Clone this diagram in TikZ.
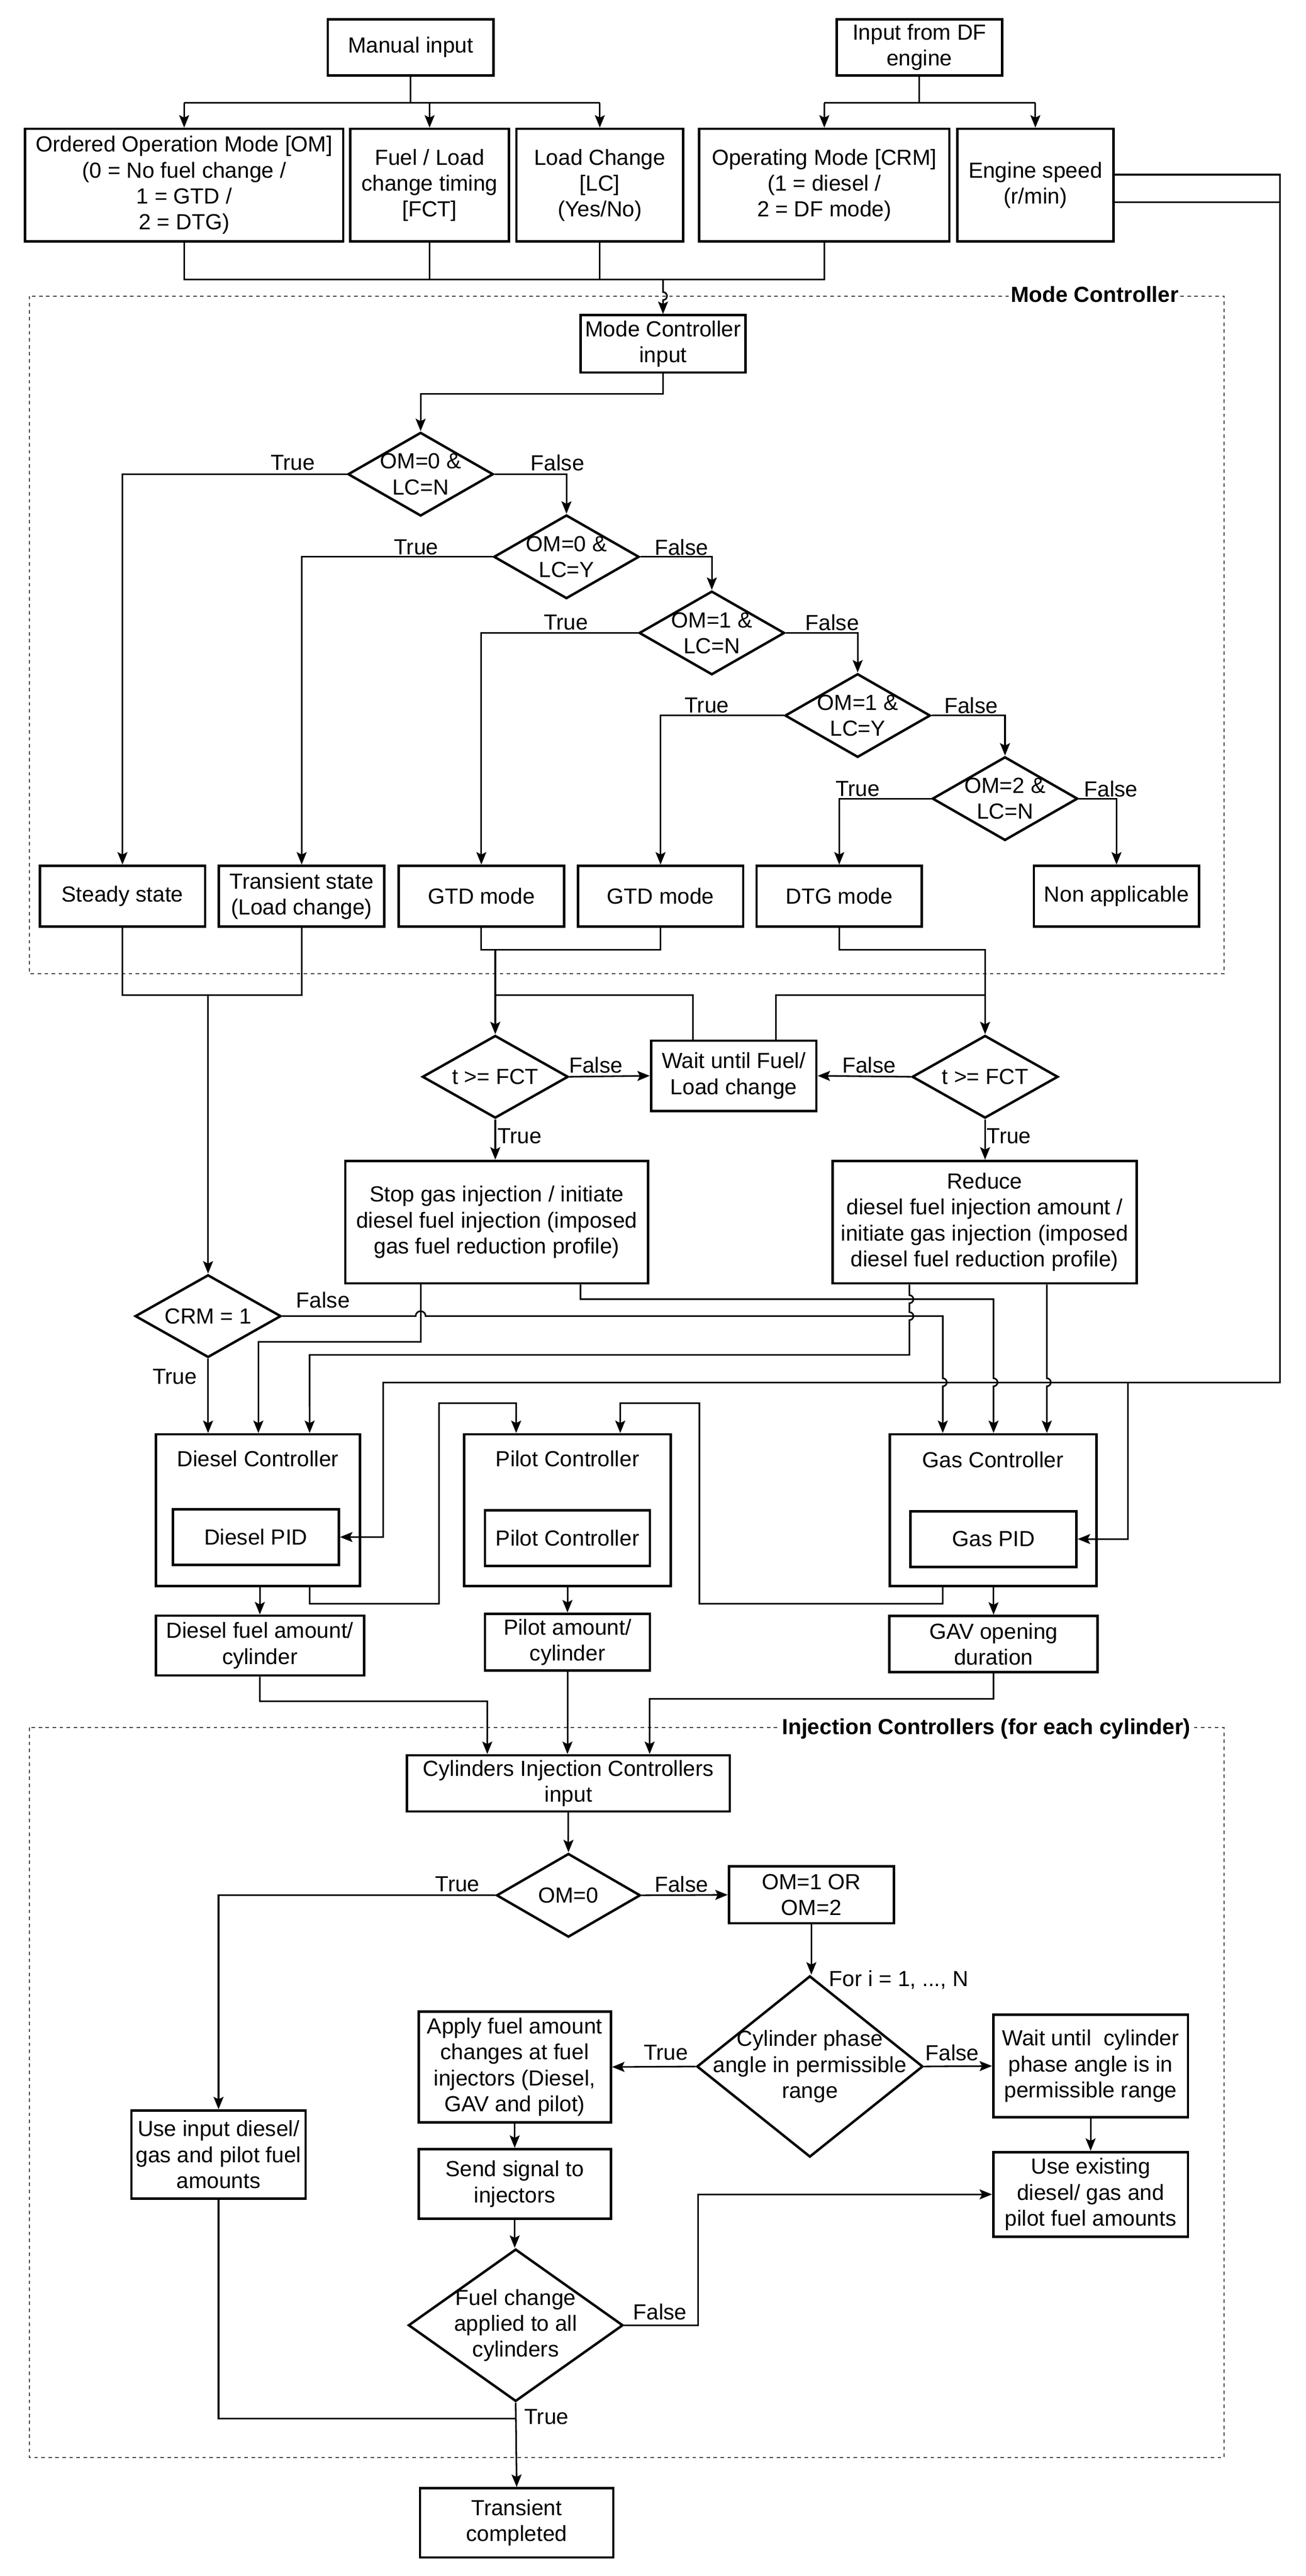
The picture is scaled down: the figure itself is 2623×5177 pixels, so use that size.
\documentclass[tikz,border=0pt]{standalone}
\usepackage{fontspec}
\setmainfont{Liberation Sans}
\usetikzlibrary{shapes.geometric, arrows.meta, calc}

\newcommand{\boxfont}{\fontsize{12.5}{14.8}\selectfont}

\tikzset{
  box/.style={draw, line width=1.4pt, align=center, inner sep=0pt, font=\boxfont},
  cond/.style={diamond, draw, line width=1.4pt, inner sep=0pt},
  txt/.style={align=center, inner sep=0pt, font=\boxfont},
  lbl/.style={inner sep=0pt, font=\boxfont},
  conn/.style={line width=0.9pt},
  arr/.style={conn, -{Stealth[length=0.25cm, width=0.2cm, inset=0.05cm]}},
  zone/.style={line width=0.6pt, black!75, dash pattern=on 2pt off 2pt},
  ztitle/.style={fill=white, inner sep=1pt, font=\bfseries\boxfont}
}

\begin{document}
\begin{tikzpicture}[x=0.01cm, y=-0.01cm]
\useasboundingbox (0,0) rectangle (2623,5177);

% dashed zones
\draw[zone] (59,595) rectangle (2459,1957);
\node[ztitle, anchor=east] (mctitle) at (2372,592) {Mode Controller};
\draw[zone] (59,3472) rectangle (2459,4939);
\node[ztitle, anchor=east] (ictitle) at (2396,3474) {Injection Controllers (for each cylinder)};

% inputs
\node[box, minimum width=3.33cm, minimum height=1.13cm] (man) at (825,95) {Manual input};
\node[box, minimum width=3.32cm, minimum height=1.13cm] (dfe) at (1847,95) {Input from DF\\engine};
\node[box, minimum width=6.39cm, minimum height=2.26cm] (om) at (370,372) {Ordered Operation Mode [OM]\\(0 = No fuel change /\\1 = GTD /\\2 = DTG)};
\node[box, minimum width=3.18cm, minimum height=2.26cm] (fct) at (863,372) {Fuel / Load\\change timing\\{[FCT]}};
\node[box, minimum width=3.35cm, minimum height=2.26cm] (lc) at (1205,372) {Load Change\\{[LC]}\\(Yes/No)};
\node[box, minimum width=5.02cm, minimum height=2.26cm] (crm) at (1656,372) {Operating Mode [CRM]\\(1 = diesel /\\2 = DF mode)};
\node[box, minimum width=3.13cm, minimum height=2.26cm] (spd) at (2080,372) {Engine speed\\(r/min)};

% mode controller
\node[box, minimum width=3.31cm, minimum height=1.15cm] (mci) at (1332,691) {Mode Controller\\input};
\node[cond, minimum width=2.92cm, minimum height=1.68cm] (d1) at (845,953) {};
\node[txt] (d1t) at (d1) {OM=0 \&\\LC=N};
\node[cond, minimum width=2.92cm, minimum height=1.68cm] (d2) at (1138,1119) {};
\node[txt] (d2t) at (d2) {OM=0 \&\\LC=Y};
\node[cond, minimum width=2.92cm, minimum height=1.68cm] (d3) at (1430,1272) {};
\node[txt] (d3t) at (d3) {OM=1 \&\\LC=N};
\node[cond, minimum width=2.92cm, minimum height=1.68cm] (d4) at (1723,1438) {};
\node[txt] (d4t) at (d4) {OM=1 \&\\LC=Y};
\node[cond, minimum width=2.92cm, minimum height=1.68cm] (d5) at (2019,1605) {};
\node[txt] (d5t) at (d5) {OM=2 \&\\LC=N};

\node[box, minimum width=3.32cm, minimum height=1.22cm] (ss) at (246,1801) {Steady state};
\node[box, minimum width=3.32cm, minimum height=1.22cm] (ts) at (606,1801) {Transient state\\(Load change)};
\node[box, minimum width=3.32cm, minimum height=1.22cm] (gtd1) at (967,1801) {GTD mode};
\node[box, minimum width=3.32cm, minimum height=1.22cm] (gtd2) at (1327,1801) {GTD mode};
\node[box, minimum width=3.32cm, minimum height=1.22cm] (dtg) at (1686,1801) {DTG mode};
\node[box, minimum width=3.32cm, minimum height=1.22cm] (na) at (2243,1801) {Non applicable};

% fuel change timing
\node[cond, minimum width=2.93cm, minimum height=1.66cm] (fct1) at (995,2164) {};
\node[txt] (fct1t) at (fct1) {t >= FCT};
\node[box, minimum width=3.32cm, minimum height=1.41cm] (wait) at (1474,2162) {Wait until Fuel/\\Load change};
\node[cond, minimum width=2.93cm, minimum height=1.66cm] (fct2) at (1979,2164) {};
\node[txt] (fct2t) at (fct2) {t >= FCT};
\node[box, minimum width=6.08cm, minimum height=2.46cm] (stop) at (998,2456) {Stop gas injection / initiate\\diesel fuel injection (imposed\\gas fuel reduction profile)};
\node[box, minimum width=6.11cm, minimum height=2.46cm] (red) at (1978,2456) {Reduce\\diesel fuel injection amount /\\initiate gas injection (imposed\\diesel fuel reduction profile)};
\node[cond, minimum width=2.93cm, minimum height=1.66cm] (crmd) at (418,2645) {};
\node[txt] (crmdt) at (crmd) {CRM = 1};

% controllers
\node[box, minimum width=4.10cm, minimum height=3.05cm] (dc) at (518,3035) {};
\node[txt] (dct) at (518,2931) {Diesel Controller};
\node[box, minimum width=3.33cm, minimum height=1.12cm] (dpid) at (514,3089) {Diesel PID};
\node[box, minimum width=4.15cm, minimum height=3.05cm] (pc) at (1140,3035) {};
\node[txt] (pct) at (1140,2931) {Pilot Controller};
\node[box, minimum width=3.31cm, minimum height=1.12cm] (ppid) at (1140,3091) {Pilot Controller};
\node[box, minimum width=4.15cm, minimum height=3.05cm] (gc) at (1995,3035) {};
\node[txt] (gct) at (1995,2934) {Gas Controller};
\node[box, minimum width=3.33cm, minimum height=1.12cm] (gpid) at (1996,3093) {Gas PID};

\node[box, minimum width=4.18cm, minimum height=1.20cm] (dfa) at (522,3307) {Diesel fuel amount/\\cylinder};
\node[box, minimum width=3.31cm, minimum height=1.14cm] (pam) at (1140,3300) {Pilot amount/\\cylinder};
\node[box, minimum width=4.18cm, minimum height=1.13cm] (gav) at (1996,3304) {GAV opening\\duration};

% injection controllers
\node[box, minimum width=6.48cm, minimum height=1.13cm] (cic) at (1142,3584) {Cylinders Injection Controllers\\input};
\node[cond, minimum width=2.89cm, minimum height=1.68cm] (om0) at (1142,3809) {};
\node[txt] (om0t) at (om0) {OM=0};
\node[box, minimum width=3.31cm, minimum height=1.14cm] (om12) at (1630,3808) {OM=1 OR\\OM=2};
\node[cond, minimum width=4.54cm, minimum height=3.64cm] (cpd) at (1627,4153) {};
\node[txt] (cpdt) at (cpd) {Cylinder phase\\angle in permissible\\range};
\node[box, minimum width=3.86cm, minimum height=2.23cm] (app) at (1034,4154) {Apply fuel amount\\changes at fuel\\injectors (Diesel,\\GAV and pilot)};
\node[box, minimum width=3.91cm, minimum height=2.06cm] (wcy) at (2191,4152) {Wait until~ cylinder\\phase angle is in\\permissible range};
\node[box, minimum width=3.91cm, minimum height=1.70cm] (uex) at (2191,4410) {Use existing\\diesel/ gas and\\pilot fuel amounts};
\node[box, minimum width=3.86cm, minimum height=1.40cm] (snd) at (1034,4389) {Send signal to\\injectors};
\node[cond, minimum width=4.31cm, minimum height=3.06cm] (fcd) at (1036,4673) {};
\node[txt] (fcdt) at (fcd) {Fuel change\\applied to all\\cylinders};
\node[box, minimum width=3.50cm, minimum height=1.77cm] (uin) at (439,4330) {Use input diesel/\\gas and pilot fuel\\amounts};
\node[box, minimum width=3.88cm, minimum height=1.39cm] (tc) at (1038,5070) {Transient\\completed};

% bus lines
\coordinate (mbus) at (0,207);
\coordinate (ibus) at (0,562);
\coordinate (mcbus) at (0,792);
\coordinate (gbus) at (0,1909);
\coordinate (sbus) at (0,2000);

% inputs to parameter boxes
\draw[conn] (man.south) -- (man.south |- mbus);
\draw[conn] (om.north |- mbus) -- (lc.north |- mbus);
\draw[arr] (om.north |- mbus) -- (om.north);
\draw[arr] (fct.north |- mbus) -- (fct.north);
\draw[arr] (lc.north |- mbus) -- (lc.north);
\draw[conn] (dfe.south) -- (dfe.south |- mbus);
\draw[conn] (crm.north |- mbus) -- (spd.north |- mbus);
\draw[arr] (crm.north |- mbus) -- (crm.north);
\draw[arr] (spd.north |- mbus) -- (spd.north);

% into mode controller
\draw[conn] (om.south) -- (om.south |- ibus) -- (crm.south |- ibus) -- (crm.south);
\draw[conn] (fct.south) -- (fct.south |- ibus);
\draw[conn] (lc.south) -- (lc.south |- ibus);
\draw[arr] (mci.north |- ibus) -- (1332,587) arc[start angle=90, end angle=-90, radius=0.08cm] -- (mci.north);
\draw[arr] (mci.south) -- (mci.south |- mcbus) -- (d1.north |- mcbus) -- (d1.north);

% decision chain
\draw[arr] (d1.west) -| (ss.north);
\draw[arr] (d1.east) -| (d2.north);
\draw[arr] (d2.west) -| (ts.north);
\draw[arr] (d2.east) -| (d3.north);
\draw[arr] (d3.west) -| (gtd1.north);
\draw[arr] (d3.east) -| (d4.north);
\draw[arr] (d4.west) -| (gtd2.north);
\draw[arr] (d4.east) -| (d5.north);
\draw[arr] (d5.west) -| (dtg.north);
\draw[arr] (d5.east) -| (na.north);
\node[lbl] (d1y) at (588,930) {True};
\node[lbl] (d1n) at (1120,930) {False};
\node[lbl] (d2y) at (836,1100) {True};
\node[lbl] (d2n) at (1369,1100) {False};
\node[lbl] (d3y) at (1137,1251) {True};
\node[lbl] (d3n) at (1672,1251) {False};
\node[lbl] (d4y) at (1420,1418) {True};
\node[lbl] (d4n) at (1951,1418) {False};
\node[lbl] (d5y) at (1723,1585) {True};
\node[lbl] (d5n) at (2232,1585) {False};

% out of mode controller
\draw[conn] (ss.south) -- (ss.south |- sbus) -- (ts.south |- sbus) -- (ts.south);
\draw[arr] (crmd.north |- sbus) -- (crmd.north);
\draw[conn] (gtd1.south) -- (gtd1.south |- gbus) -- (gtd2.south |- gbus) -- (gtd2.south);
\draw[arr] (fct1.north |- gbus) -- (fct1.north);
\draw[arr] (dtg.south) -- (dtg.south |- gbus) -- (fct2.north |- gbus) -- (fct2.north);
\coordinate (wl) at ([xshift=-0.82cm]wait.north);
\coordinate (wr) at ([xshift=0.85cm]wait.north);
\draw[conn] (wl) -- (wl |- sbus) -- (fct1.north |- sbus);
\draw[conn] (wr) -- (wr |- sbus) -- (fct2.north |- sbus);
\draw[arr] (fct1.east) -- (wait.west);
\draw[arr] (fct2.west) -- (wait.east);
\draw[arr] (fct1.south) -- (fct1.south |- stop.north);
\draw[arr] (fct2.south) -- (fct2.south |- red.north);
\node[lbl] (f1n) at (1197,2140) {False};
\node[lbl] (f2n) at (1746,2140) {False};
\node[lbl] (f1y) at (1044,2283) {True};
\node[lbl] (f2y) at (2027,2283) {True};

% into the controllers
\draw[arr] (crmd.south) -- (crmd.south |- dc.north);
\draw[arr] (crmd.east) -- (835,2645) arc[start angle=180, end angle=0, radius=0.1cm] -- (1894,2645) -- (1894,2770) arc[start angle=90, end angle=-90, radius=0.08cm] -- ([xshift=-1.01cm]gc.north);
\node[lbl] (cn) at (649,2613) {False};
\node[lbl] (cy) at (351,2767) {True};
\draw[arr] ([xshift=-1.53cm]stop.south) |- (519,2697) -- ([xshift=0.01cm]dc.north);
\draw[arr] ([xshift=1.68cm]stop.south) |- (1996,2611) -- (1996,2770) arc[start angle=90, end angle=-90, radius=0.08cm] -- ([xshift=0.01cm]gc.north);
\draw[arr] ([xshift=-1.51cm]red.south) -- (1827,2603) arc[start angle=90, end angle=-90, radius=0.08cm] -- (1827,2637) arc[start angle=90, end angle=-90, radius=0.08cm] -- (1827,2723) -- (622,2723) -- ([xshift=1.04cm]dc.north);
\draw[arr] ([xshift=1.25cm]red.south) -- (2103,2770) arc[start angle=90, end angle=-90, radius=0.08cm] -- ([xshift=1.08cm]gc.north);

% engine speed to the PIDs
\draw[arr] ([yshift=0.21cm]spd.east) -| (2571,2778) -- (770,2778) |- (dpid.east);
\draw[arr] ([yshift=-0.34cm]spd.east) -| (2571,2778) -- (2266,2778) |- (gpid.east);

% to the pilot controller
\draw[arr] ([xshift=1.04cm]dc.south) |- (882,3223) |- (1037,2820) -- ([xshift=-1.03cm]pc.north);
\draw[arr] ([xshift=-1.01cm]gc.south) |- (1405,3223) |- (1246,2820) -- ([xshift=1.06cm]pc.north);

% controller outputs
\draw[arr] (dc.south -| dfa.north) -- (dfa.north);
\draw[arr] (pc.south) -- (pam.north);
\draw[arr] (gc.south -| gav.north) -- (gav.north);
\draw[arr] (dfa.south) |- (979,3419) -- ([xshift=-1.63cm]cic.north);
\draw[arr] (pam.south) -- (pam.south |- cic.north);
\draw[arr] (gav.south) |- (1305,3414) -- ([xshift=1.63cm]cic.north);

% injection controllers
\draw[arr] (cic.south) -- (om0.north);
\draw[arr] (om0.west) -| (uin.north);
\draw[arr] (om0.east) -- (om12.west);
\node[lbl] (o0y) at (919,3787) {True};
\node[lbl] (o0n) at (1369,3787) {False};
\draw[arr] (om12.south) -- (om12.south |- cpd.north);
\node[lbl, anchor=west] (loop) at (1665,3979) {For i = 1, ..., N};
\draw[arr] (cpd.west) -- (app.east);
\draw[arr] (cpd.east) -- (wcy.west);
\node[lbl] (cpy) at (1338,4125) {True};
\node[lbl] (cpn) at (1913,4125) {False};
\draw[arr] (wcy.south) -- (uex.north);
\draw[arr] (app.south) -- (snd.north);
\draw[arr] (snd.south) -- (snd.south |- fcd.north);
\draw[arr] (fcd.east) -| (1402,4410) -- (uex.west);
\node[lbl] (fcn) at (1326,4646) {False};
\draw[arr] (fcd.south) -- (tc.north);
\node[lbl] (fcy) at (1098,4857) {True};
\draw[conn] (uin.south) |- ($(fcd.south)!0.19!(tc.north)$);
\end{tikzpicture}
\end{document}
